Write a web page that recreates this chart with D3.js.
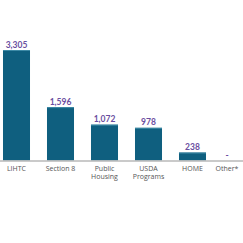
<!DOCTYPE html>
<html><head><meta charset="utf-8">
<script src="https://cdn.jsdelivr.net/npm/d3@7"></script>
<style>body{margin:0;background:#fff}svg{display:block}</style>
</head><body>
<script>
const categories = ["LIHTC", "Section 8", "Public Housing", "USDA Programs", "HOME", "Other*"];
const labelLines = [["LIHTC"], ["Section 8"], ["Public", "Housing"], ["USDA", "Programs"], ["HOME"], ["Other*"]];
const values = [3305, 1596, 1072, 978, 238, 0];
const valueLabels = ["3,305", "1,596", "1,072", "978", "238", "-"];

const W = 243, H = 243, baseY = 160.5;
const svg = d3.select("body").append("svg").attr("width", W).attr("height", H);
const x = d3.scaleBand().domain(categories).range([-5.5, 258.5]).paddingInner(0.386).paddingOuter(0.193);
const y = d3.scaleLinear().domain([0, 3305]).range([baseY, 50]);

svg.selectAll("rect.bar").data(values).join("rect")
  .attr("class", "bar")
  .attr("x", (d, i) => x(categories[i]))
  .attr("width", x.bandwidth())
  .attr("y", d => y(d))
  .attr("height", d => baseY - y(d))
  .attr("fill", "#0f5f7f");
svg.selectAll("line.top").data(values.filter(v => v > 0)).join("line")
  .attr("x1", (d, i) => x(categories[i])).attr("x2", (d, i) => x(categories[i]) + x.bandwidth())
  .attr("y1", d => y(d) + 0.5).attr("y2", d => y(d) + 0.5)
  .attr("stroke", "#3d8aa6").attr("stroke-width", 1);

svg.append("line").attr("x1", 0).attr("x2", W).attr("y1", baseY + 0.5).attr("y2", baseY + 0.5)
  .attr("stroke", "#b8b8b8").attr("stroke-width", 1.5);

const cx = (i) => Math.min(x(categories[i]) + x.bandwidth() / 2, 227);
svg.selectAll("text.val").data(values).join("text")
  .attr("class", "val")
  .attr("x", (d, i) => cx(i))
  .attr("y", d => y(d) - 2.5)
  .attr("text-anchor", "middle")
  .attr("font-family", "Lato, 'Open Sans', sans-serif")
  .attr("font-weight", "bold").attr("font-size", 8.5)
  .attr("fill", "#6a4ea0")
  .text((d, i) => valueLabels[i]);

const g = svg.selectAll("text.cat").data(labelLines).join("text")
  .attr("class", "cat")
  .attr("x", (d, i) => cx(i))
  .attr("y", 170.5)
  .attr("text-anchor", "middle")
  .attr("font-family", "'Open Sans', Lato, sans-serif")
  .attr("font-size", 7).attr("fill", "#555");
g.selectAll("tspan").data(d => d).join("tspan")
  .attr("x", function () { return d3.select(this.parentNode).attr("x"); })
  .attr("dy", (d, j) => j === 0 ? 0 : 8.3)
  .text(d => d);
</script>
</body></html>
